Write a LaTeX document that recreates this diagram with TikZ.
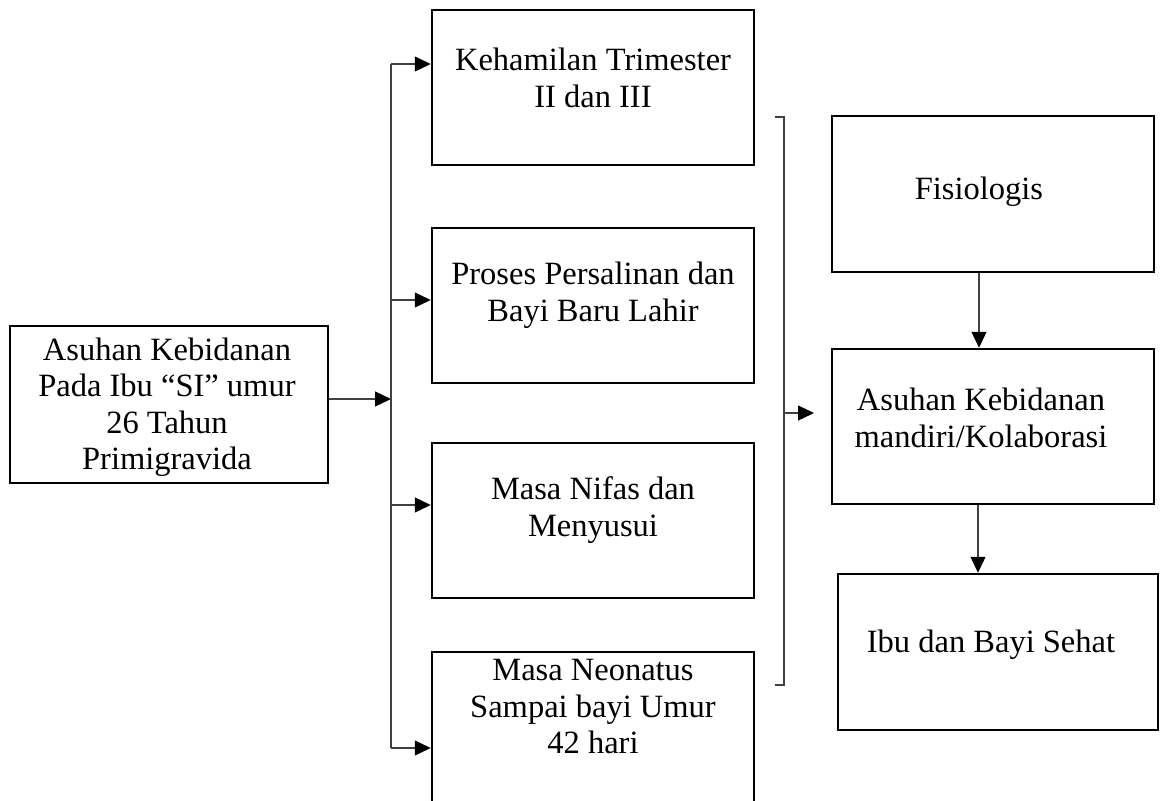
\documentclass[tikz,border=0pt]{standalone}
\usepackage{fontspec}
\setmainfont{Liberation Serif}
\usetikzlibrary{arrows.meta}
\tikzset{
  box/.style={draw=black, line width=2.5pt, inner sep=0pt},
  lbl/.style={align=center, inner sep=0pt, font=\fontsize{32.5}{36.5}\selectfont},
  conn/.style={draw=black!75, line width=1.3pt},
  arr/.style={conn, -{Triangle[length=16pt,width=15pt,color=black]}}
}
\begin{document}
\begin{tikzpicture}[x=1pt,y=-1pt]
\useasboundingbox (0,0) rectangle (1160,801);
\clip (0,0) rectangle (1160,801);
% boxes
\node[box, minimum width=318pt, minimum height=157pt] (L) at (169,404.5) {};
\node[box, minimum width=322pt, minimum height=155pt] (b1) at (593,87.5) {};
\node[box, minimum width=322pt, minimum height=155pt] (b2) at (593,305.5) {};
\node[box, minimum width=322pt, minimum height=155pt] (b3) at (593,520.5) {};
\node[box, minimum width=322pt, minimum height=180pt] (b4) at (593,742) {};
\node[box, minimum width=322pt, minimum height=156pt] (F) at (993,194) {};
\node[box, minimum width=322pt, minimum height=155pt] (A) at (993,426.5) {};
\node[box, minimum width=320pt, minimum height=156pt] (I) at (998,652) {};
% labels
\node[lbl] (tL) at (167,407) {Asuhan Kebidanan\\Pada Ibu ``SI'' umur\\26 Tahun\\Primigravida};
\node[lbl] (t1) at (593,78) {Kehamilan Trimester\\II dan III};
\node[lbl] (t2) at (593,295) {Proses Persalinan dan\\Bayi Baru Lahir};
\node[lbl] (t3) at (593,510) {Masa Nifas dan\\Menyusui};
\node[lbl] (t4) at (593,707) {Masa Neonatus\\Sampai bayi Umur\\42 hari};
\node[lbl] (tF) at (979,192) {Fisiologis};
\node[lbl] (tA) at (981,418) {Asuhan Kebidanan\\mandiri/Kolaborasi};
\node[lbl] (tI) at (991,645) {Ibu dan Bayi Sehat};
% trunk
\coordinate (j) at (391,399);
\coordinate (jt) at (391,64);
\coordinate (jb) at (391,748);
\coordinate (j2) at (391,300);
\coordinate (j3) at (391,505);
\draw[arr] (L.east |- j) -- (j);
\draw[conn] (jt) -- (jb);
\draw[arr] (jt) -- (b1.west |- jt);
\draw[arr] (j2) -- (b2.west |- j2);
\draw[arr] (j3) -- (b3.west |- j3);
\draw[arr] (jb) -- (b4.west |- jb);
% bracket
\coordinate (bt) at (784,117);
\coordinate (bb) at (784,685);
\coordinate (bm) at (784,413);
\coordinate (bmt) at (814,413);
\draw[conn] ([xshift=-9pt]bt) -- (bt) -- (bb) -- ([xshift=-9pt]bb);
\draw[arr] (bm) -- (bmt);
% right chain
\draw[arr] (F.south -| 979,0) -- (A.north -| 979,0);
\draw[arr] (A.south -| 978,0) -- (I.north -| 978,0);
\end{tikzpicture}
\end{document}
